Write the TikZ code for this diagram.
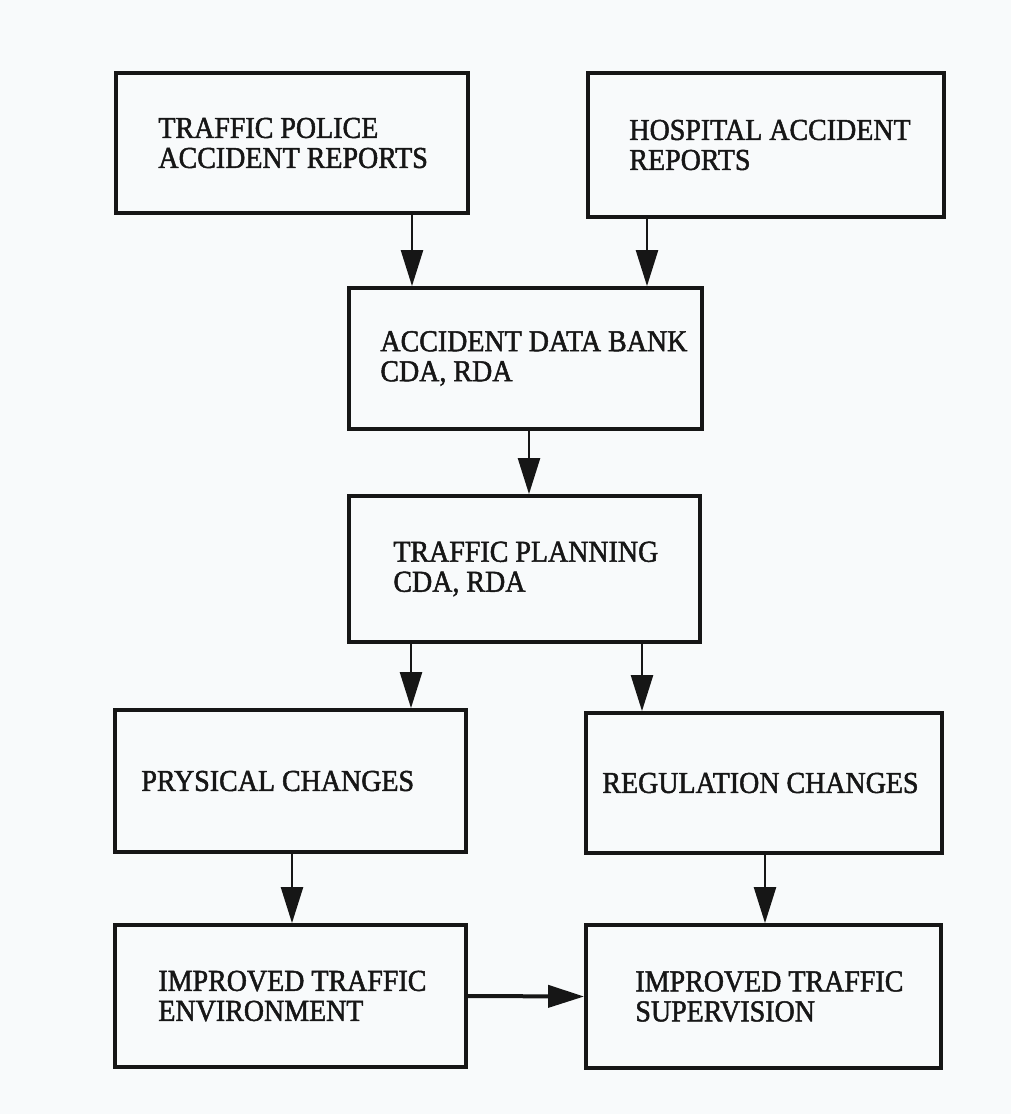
\documentclass[tikz,border=0pt]{standalone}
\usepackage{fontspec}
\newfontfamily\boxfont[FakeStretch=0.92,FakeBold=1.6]{Liberation Serif}
\usetikzlibrary{arrows.meta}
\definecolor{ink}{HTML}{161616}
\definecolor{paper}{HTML}{F8FAFB}

\begin{document}
\begin{tikzpicture}[x=0.5pt,y=-0.5pt,
  box/.style={draw=ink, line width=1.9pt, inner sep=0pt},
  label/.style={anchor=west, inner sep=0pt, align=left, text=ink,
    font=\boxfont\fontsize{15.2pt}{15pt}\selectfont},
  arr/.style={draw=ink, line width=1.2pt, -{Triangle[width=11pt,length=18pt]}},
  harr/.style={arr, line width=2pt}]

% page
\fill[paper] (0,0) rectangle (1011,1114);
\useasboundingbox (0,0) rectangle (1011,1114);

% boxes
\node[box, minimum width=176pt,   minimum height=70pt]   (b1)  at (292,143)       {};
\node[box, minimum width=178pt,   minimum height=72pt]   (b2)  at (766,145)       {};
\node[box, minimum width=176.5pt, minimum height=70.5pt] (adb) at (525.5,358.5)   {};
\node[box, minimum width=175.5pt, minimum height=73pt]   (tp)  at (524.5,569)     {};
\node[box, minimum width=175.5pt, minimum height=71pt]   (b5)  at (290.5,781)     {};
\node[box, minimum width=178pt,   minimum height=70pt]   (b6)  at (764,783)       {};
\node[box, minimum width=175.5pt, minimum height=71pt]   (b7)  at (290.5,996)     {};
\node[box, minimum width=177.5pt, minimum height=71.5pt] (b8)  at (763.5,996.5)   {};

% texts
\node[label] (t1)  at (b1.west -| 158,0)  {TRAFFIC POLICE\\ACCIDENT REPORTS};
\node[label] (t2)  at (b2.west -| 629,0)  {HOSPITAL ACCIDENT\\REPORTS};
\node[label] (tadb) at (adb.west -| 380,0) {ACCIDENT DATA BANK\\CDA, RDA};
\node[label] (ttp) at (tp.west -| 393,0)  {TRAFFIC PLANNING\\CDA, RDA};
\node[label] (t5)  at (b5.west -| 141,0)  {PRYSICAL CHANGES};
\node[label] (t6)  at (b6.west -| 602,0)  {REGULATION CHANGES};
\node[label] (t7)  at (b7.west -| 158,0)  {IMPROVED TRAFFIC\\ENVIRONMENT};
\node[label] (t8)  at (b8.west -| 635,0)  {IMPROVED TRAFFIC\\SUPERVISION};

% connectors
\draw[arr] (b1.south -| 412,0) -- (adb.north -| 412,0);
\draw[arr] (b2.south -| 647,0) -- (adb.north -| 647,0);
\draw[arr] (adb.south -| 529,0) -- (tp.north -| 529,0);
\draw[arr] (tp.south -| 411,0) -- (b5.north -| 411,0);
\draw[arr] (tp.south -| 642,0) -- (b6.north -| 642,0);
\draw[arr] (b5.south -| 292,0) -- (b7.north -| 292,0);
\draw[arr] (b6.south -| 765,0) -- (b8.north -| 765,0);
\draw[harr] (b7.east) -- (b8.west);
\end{tikzpicture}
\end{document}
